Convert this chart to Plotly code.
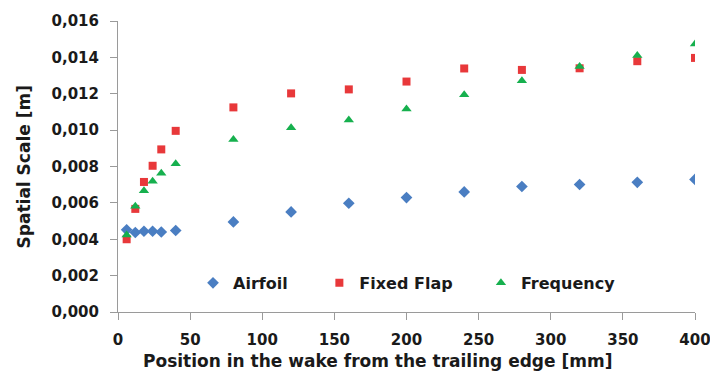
import plotly.graph_objects as go

# Measurement positions downstream of the trailing edge [mm]
positions = [6, 12, 18, 24, 30, 40, 80, 120, 160, 200, 240, 280, 320, 360, 400]

# Spatial scale [m] for each configuration
airfoil = [0.00452, 0.00437, 0.00444, 0.00444, 0.00440, 0.00448, 0.00495, 0.00550,
           0.00598, 0.00629, 0.00660, 0.00690, 0.00701, 0.00713, 0.00729]
fixed_flap = [0.00400, 0.00567, 0.00715, 0.00804, 0.00894, 0.00996, 0.01125, 0.01202,
              0.01224, 0.01267, 0.01339, 0.01331, 0.01340, 0.01379, 0.01397]
frequency = [0.00424, 0.00582, 0.00666, 0.00719, 0.00763, 0.00815, 0.00949, 0.01013,
             0.01055, 0.01116, 0.01194, 0.01271, 0.01350, 0.01410, 0.01474]

x_ticks = [0, 50, 100, 150, 200, 250, 300, 350, 400]
y_ticks = [0, 0.002, 0.004, 0.006, 0.008, 0.010, 0.012, 0.014, 0.016]

x_title = "Position in the wake from the trailing edge [mm]"
y_title = "Spatial Scale [m]"

# name, values, marker symbol, colour, size, legend id, legend x (paper)
series = [
    ("Airfoil", airfoil, "diamond", "#4A7EC2", 9, "legend", 0.130),
    ("Fixed Flap", fixed_flap, "square", "#E8383A", 8, "legend2", 0.349),
    ("Frequency", frequency, "triangle-up", "#16B04E", 9, "legend3", 0.629),
]

FONT = "DejaVu Sans, Verdana, sans-serif"
TEXT_COLOR = "#1a1a1a"
AXIS_COLOR = "#9a9a9a"

fig = go.Figure()
legend_layout = {}
for name, values, symbol, color, size, legend_id, lx in series:
    fig.add_trace(go.Scatter(
        x=positions, y=values, mode="markers", name=name, legend=legend_id,
        marker=dict(symbol=symbol, color=color, size=size, line=dict(width=0)),
    ))
    legend_layout[legend_id] = dict(
        x=lx, y=0.10, xanchor="left", yanchor="middle",
        orientation="h", bgcolor="rgba(0,0,0,0)",
        font=dict(family=FONT, size=16, color=TEXT_COLOR, weight="bold"),
    )

fig.update_layout(
    width=710, height=373,
    margin=dict(l=118, r=15, t=21, b=61, autoexpand=False),
    paper_bgcolor="white", plot_bgcolor="white",
    separators=",.",
    font=dict(family=FONT, size=15, color=TEXT_COLOR, weight="bold"),
    showlegend=True,
    **legend_layout,
    xaxis=dict(
        range=[0, 400], tickmode="array", tickvals=x_ticks,
        showgrid=False, zeroline=False, showline=True, linecolor=AXIS_COLOR, linewidth=1,
        ticks="outside", ticklen=7, tickcolor=AXIS_COLOR, automargin=False,
        ticklabelstandoff=7, ticklabeloverflow="allow",
        tickfont=dict(size=15, weight="bold"),
    ),
    yaxis=dict(
        range=[0, 0.016], tickmode="array", tickvals=y_ticks, tickformat=".3f",
        showgrid=False, zeroline=False, showline=True, linecolor=AXIS_COLOR, linewidth=1,
        ticks="outside", ticklen=7, tickcolor=AXIS_COLOR, automargin=False,
        ticklabelstandoff=8, ticklabeloverflow="allow",
        tickfont=dict(size=15, weight="bold"),
    ),
    annotations=[
        dict(text=x_title, xref="paper", yref="paper", x=0.4506, y=-0.169,
             xanchor="center", yanchor="middle", showarrow=False,
             font=dict(family=FONT, size=17, color=TEXT_COLOR, weight="bold")),
        dict(text=y_title, xref="paper", yref="paper", x=-0.163, y=0.5, textangle=-90,
             xanchor="center", yanchor="middle", showarrow=False,
             font=dict(family=FONT, size=17, color=TEXT_COLOR, weight="bold")),
    ],
)

fig.write_html("out.html")
